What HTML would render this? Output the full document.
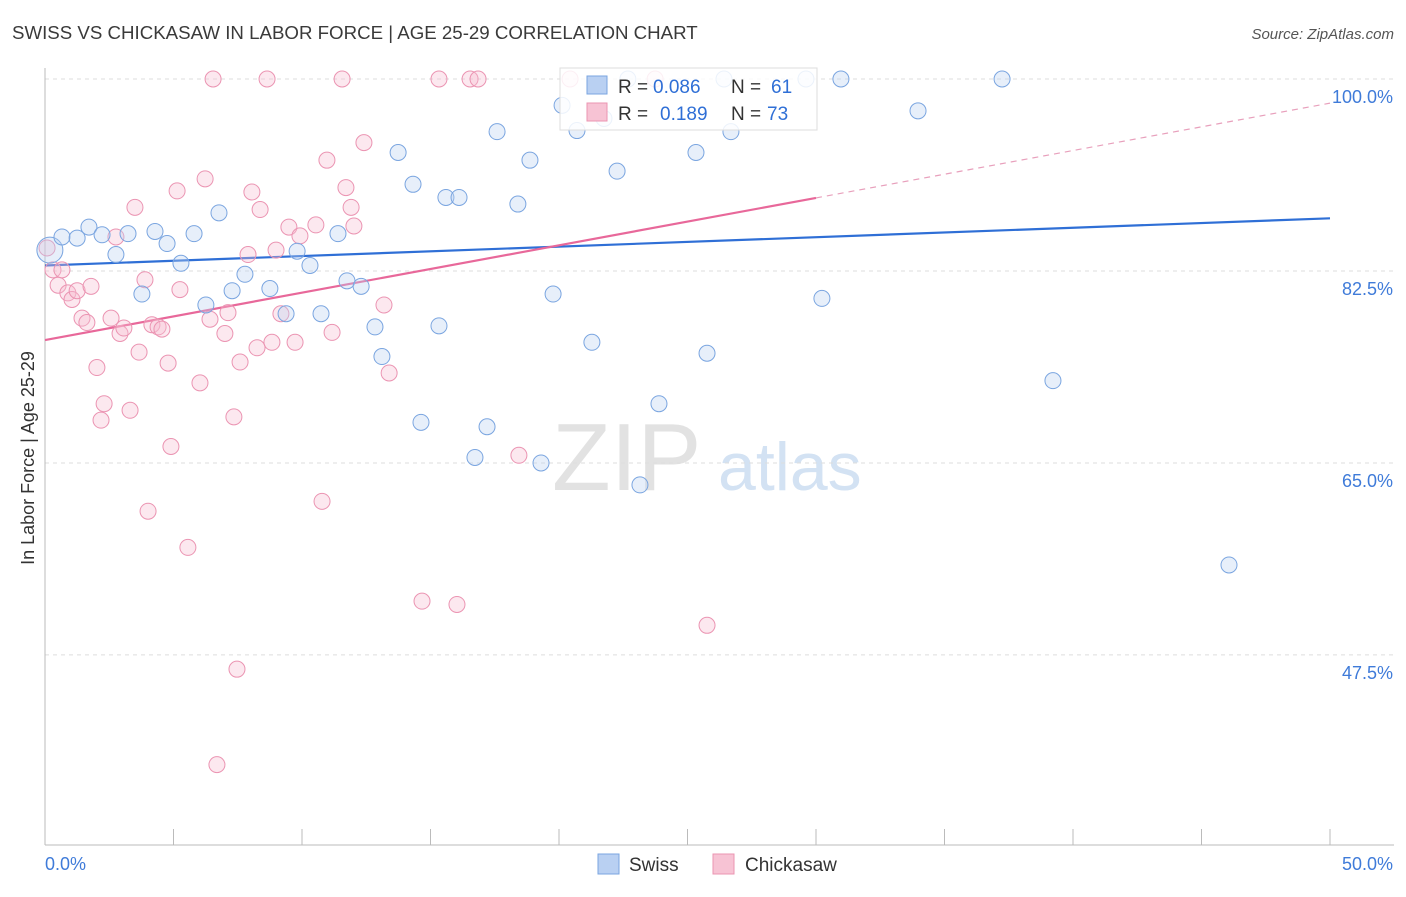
<!DOCTYPE html>
<html><head><meta charset="utf-8">
<style>
body{margin:0;background:#fff;font-family:"Liberation Sans",sans-serif;}
svg text{font-family:"Liberation Sans",sans-serif;}
</style></head>
<body>
<svg id="chart" width="1406" height="892" xmlns="http://www.w3.org/2000/svg">
<text x="12" y="39" font-size="18.7" fill="#3a3a3a">SWISS VS CHICKASAW IN LABOR FORCE | AGE 25-29 CORRELATION CHART</text>
<text x="1394" y="39" font-size="15" fill="#555" text-anchor="end" font-style="italic">Source: ZipAtlas.com</text>
<g>
<text x="552" y="490" font-size="96" fill="#e2e2e2" font-family="Liberation Serif">ZIP</text>
<text x="718" y="490" font-size="68" fill="#d3e2f3">atlas</text>
</g>
<g id="grid"></g>
<g id="axes"></g>
<g id="trend"></g>
<g id="pts"></g>
<g>
<rect x="560" y="68" width="257" height="62" fill="#fff" fill-opacity="0.85" stroke="#ddd"/>
<rect x="587" y="76" width="20" height="18" fill="#b9d0f2" stroke="#7aa5e0"/>
<text x="618" y="93" font-size="19" fill="#333">R =</text>
<text x="653" y="93" font-size="19" fill="#2f6fd6">0.086</text>
<text x="731" y="93" font-size="19" fill="#333">N =</text>
<text x="771" y="93" font-size="19" fill="#2f6fd6">61</text>
<rect x="587" y="103" width="20" height="18" fill="#f7c3d4" stroke="#eb94b2"/>
<text x="618" y="120" font-size="19" fill="#333">R =</text>
<text x="660" y="120" font-size="19" fill="#2f6fd6">0.189</text>
<text x="731" y="120" font-size="19" fill="#333">N =</text>
<text x="767" y="120" font-size="19" fill="#2f6fd6">73</text>
</g>
<g>
<rect x="598" y="854" width="21" height="20" fill="#b9d0f2" stroke="#7aa5e0"/>
<text x="629" y="871" font-size="19" fill="#333">Swiss</text>
<rect x="713" y="854" width="21" height="20" fill="#f7c3d4" stroke="#eb94b2"/>
<text x="745" y="871" font-size="19" fill="#333">Chickasaw</text>
</g>
<text x="34" y="458" font-size="18" fill="#333" text-anchor="middle" transform="rotate(-90 34 458)">In Labor Force | Age 25-29</text>
</svg>
<script>
const yTicks=[100,82.5,65,47.5];
const yTickLabels=["100.0%","82.5%","65.0%","47.5%"];
const xTickVals=[0,5,10,15,20,25,30,35,40,45,50];
const swissX=[0.19,0.66,1.25,1.71,2.22,2.76,3.23,3.77,4.28,4.75,5.29,5.80,6.26,6.77,7.28,7.78,8.75,9.38,9.81,10.31,10.74,11.40,11.75,12.30,12.84,13.11,13.74,14.32,14.63,15.33,15.60,16.11,16.73,17.20,17.59,18.40,18.87,19.30,19.77,20.12,20.70,21.28,21.75,22.26,23.15,23.89,25.33,25.76,26.69,29.61,30.23,30.97,33.97,37.24,39.22,46.07,22.68,26.42];
const swissY=[84.4,85.6,85.5,86.5,85.8,84.0,85.9,80.4,86.1,85.0,83.2,85.9,79.4,87.8,80.7,82.2,80.9,78.6,84.3,83.0,78.6,85.9,81.6,81.1,77.4,74.7,93.3,90.4,68.7,77.5,89.2,89.2,65.5,68.3,95.2,88.6,92.6,65.0,80.4,97.6,95.3,76.0,96.4,91.6,63.0,70.4,93.3,75.0,95.2,100,80.0,100,97.1,100,72.5,55.7,100,100];
const chickX=[0.08,0.31,0.51,0.66,0.89,1.05,1.25,1.44,1.63,1.79,2.02,2.30,2.18,2.57,2.76,2.92,3.07,3.31,3.50,3.66,3.89,4.01,4.16,4.40,4.55,4.79,4.90,5.14,5.25,5.56,6.03,6.23,6.42,6.54,6.69,7.00,7.12,7.35,7.47,7.59,7.90,8.05,8.25,8.37,8.64,8.83,8.99,9.18,9.49,9.73,9.92,10.54,10.78,10.97,11.17,11.56,11.71,11.91,12.02,12.41,13.19,13.39,14.67,15.33,16.03,16.54,16.85,18.44,20.43,25.76,23.74];
const chickY=[84.6,82.6,81.2,82.6,80.5,79.9,80.7,78.2,77.8,81.1,73.7,70.4,68.9,78.2,85.6,76.8,77.3,69.8,88.3,75.1,81.7,60.6,77.6,77.4,77.2,74.1,66.5,89.8,80.8,57.3,72.3,90.9,78.1,100,37.5,76.8,78.7,69.2,46.2,74.2,84.0,89.7,75.5,88.1,100,76.0,84.4,78.6,86.5,76.0,85.7,86.7,61.5,92.6,76.9,100,90.1,88.3,86.6,94.2,79.4,73.2,52.4,100,52.1,100,100,65.7,100,50.2,100];
const swissTrend=[83.0,87.3];
const chickTrend=[76.2,97.8];
const chickSolidEnd=30;
const NS="http://www.w3.org/2000/svg";
function sx(v){return 45+v*25.7;}
function sy(v){return 79+(100-v)*10.97;}
function mk(tag,attrs,parent){const e=document.createElementNS(NS,tag);for(const k in attrs)e.setAttribute(k,attrs[k]);parent.appendChild(e);return e;}
const grid=document.getElementById('grid'),axes=document.getElementById('axes'),trend=document.getElementById('trend'),pts=document.getElementById('pts');
yTicks.forEach((t,i)=>{
  const l=mk('line',{x1:45,x2:1394,y1:sy(t),y2:sy(t),stroke:'#ddd','stroke-dasharray':'4,4'},grid);
  
  
  const tx=mk('text',{x:1393,y:sy(t)+24,'font-size':18,fill:'#3f7bd9','text-anchor':'end'},grid);
  tx.textContent=yTickLabels[i];
  
  
});
const ax=mk('line',{x1:45,x2:1394,y1:845,y2:845,stroke:'#bbb'},axes);


const ay=mk('line',{x1:45,x2:45,y1:68,y2:845,stroke:'#bbb'},axes);


xTickVals.forEach(v=>{
  const t=mk('line',{x1:sx(v),x2:sx(v),y1:829,y2:845,stroke:'#bbb'},axes);
  
  
});
[[0,'0.0%','start',45],[50,'50.0%','end',1393]].forEach(a=>{
  const t=mk('text',{x:a[3],y:870,'font-size':18,fill:'#3f7bd9','text-anchor':a[2]},axes);
  t.textContent=a[1];
  
  
});
function dot(x,y,f,s){
  return mk('circle',{cx:sx(x),cy:sy(y),r:8,fill:f,'fill-opacity':0.35,stroke:s,'stroke-width':1},pts);
}
chickX.forEach((x,i)=>{
  const c=dot(x,chickY[i],'#f7bcd0','#eb94b2');
  
  
});
swissX.forEach((x,i)=>{
  const c=dot(x,swissY[i],'#b9d0f2','#7aa5e0');
  
  
  if(i===0)c.setAttribute('r',13);
});
const bl=mk('line',{x1:sx(0),y1:sy(swissTrend[0]),x2:sx(50),y2:sy(swissTrend[1]),stroke:'#2f6fd6','stroke-width':2.2},trend);


const yEnd=chickTrend[0]+(chickTrend[1]-chickTrend[0])*chickSolidEnd/50;
const pl=mk('line',{x1:sx(0),y1:sy(chickTrend[0]),x2:sx(chickSolidEnd),y2:sy(yEnd),stroke:'#e8689a','stroke-width':2.2},trend);


const pd=mk('line',{x1:sx(chickSolidEnd),y1:sy(yEnd),x2:sx(50),y2:sy(chickTrend[1]),stroke:'#e8a0bc','stroke-width':1.2,'stroke-dasharray':'6,5'},trend);


</script>
</body></html>
